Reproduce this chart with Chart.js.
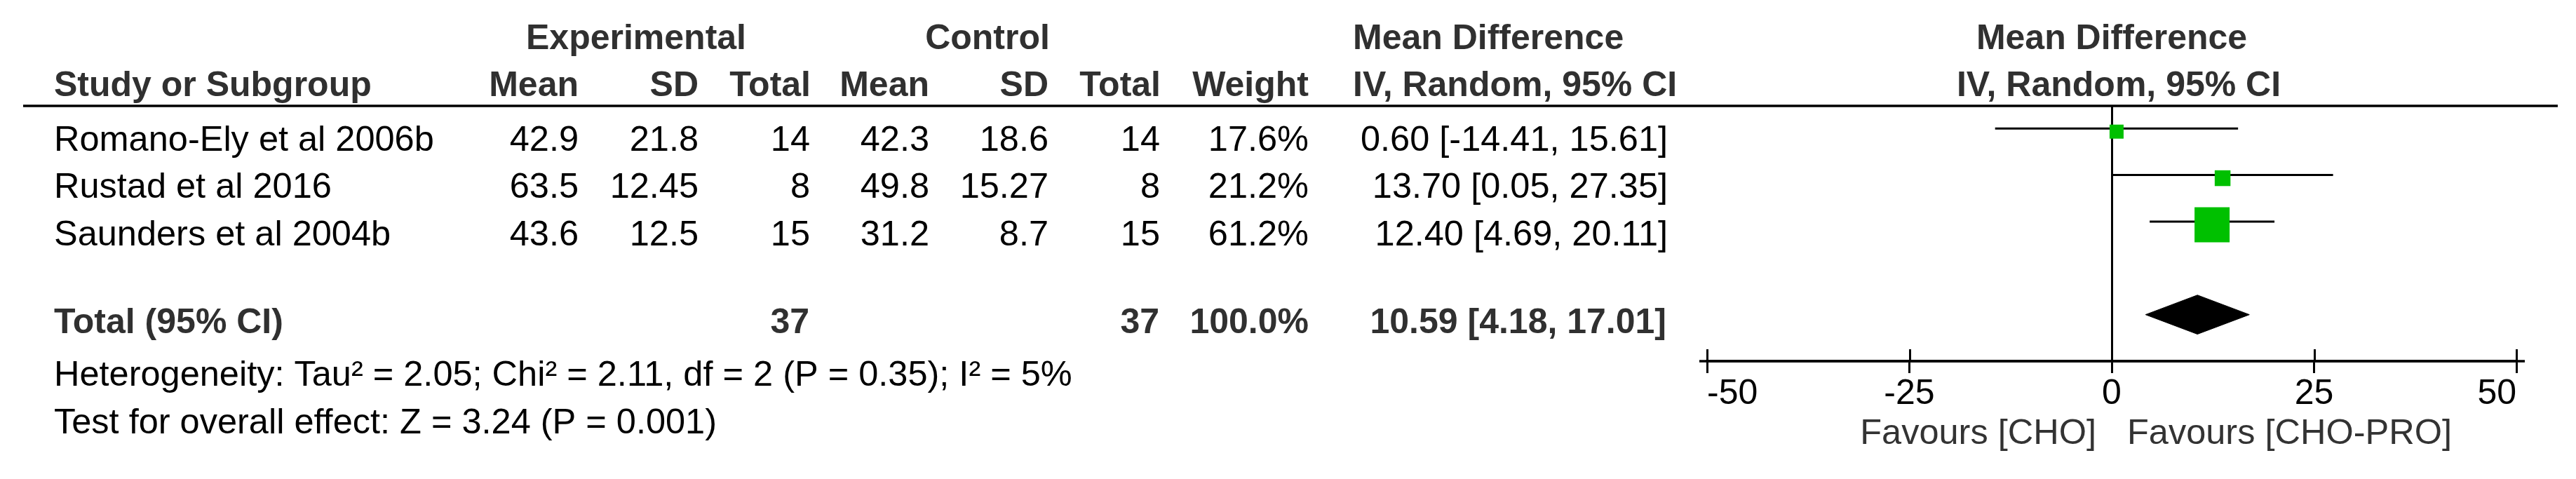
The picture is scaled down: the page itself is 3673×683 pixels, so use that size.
<!DOCTYPE html>
<html>
<head>
<meta charset="utf-8">
<script src="https://cdn.jsdelivr.net/npm/chart.js@4.4.1/dist/chart.umd.min.js"></script>
<style>
  html, body { margin: 0; padding: 0; background: #fff; }
  #wrap { width: 3673px; height: 683px; }
</style>
</head>
<body>
<div id="wrap"><canvas id="forest" width="3673" height="683"></canvas></div>
<script>
// study data
const studies = ['Romano-Ely et al 2006b', 'Rustad et al 2016', 'Saunders et al 2004b'];
const expMean = [42.9, 63.5, 43.6];
const expSD = [21.8, 12.45, 12.5];
const expTotal = [14, 8, 15];
const ctrlMean = [42.3, 49.8, 31.2];
const ctrlSD = [18.6, 15.27, 8.7];
const ctrlTotal = [14, 8, 15];
const weights = [17.6, 21.2, 61.2];
const meanDiff = [0.6, 13.7, 12.4];
const ciLow = [-14.41, 0.05, 4.69];
const ciHigh = [15.61, 27.35, 20.11];

const totalExp = 37;
const totalCtrl = 37;
const totalWeight = 100.0;
const totalMd = 10.59;
const totalLow = 4.18;
const totalHigh = 17.01;

const xTicks = [-50, -25, 0, 25, 50];
const favoursLeft = 'Favours [CHO]';
const favoursRight = 'Favours [CHO-PRO]';
const heterogeneity = 'Heterogeneity: Tau² = 2.05; Chi² = 2.11, df = 2 (P = 0.35); I² = 5%';
const overallTest = 'Test for overall effect: Z = 3.24 (P = 0.001)';

// layout / style constants
const FONT = '"Liberation Sans", Arial, sans-serif';
const TOTAL_ROW = 5;
const BOX_SHIFT = 0.068;   // boxes sit a touch below the CI line
const DIAMOND_H = 0.42;
const GREEN = '#00c000';

const boxSide = (w) => 7.9 + 0.688 * w;

const ciDatasets = studies.map((s, i) => ({
  label: s,
  data: [{ x: ciLow[i], y: i + 1 }, { x: ciHigh[i], y: i + 1 }],
  borderColor: '#000',
  borderWidth: 3,
  pointRadius: 0,
  fill: false,
  tension: 0,
}));

const datasets = [
  {
    label: 'boxes',
    data: meanDiff.map((v, i) => ({ x: v, y: i + 1 + BOX_SHIFT })),
    showLine: false,
    pointStyle: 'rect',
    pointRadius: (c) => boxSide(weights[c.dataIndex]) / Math.SQRT2,
    pointBackgroundColor: GREEN,
    pointBorderWidth: 0,
  },
  ...ciDatasets,
  {
    label: 'diamond top',
    data: [
      { x: totalLow, y: TOTAL_ROW },
      { x: totalMd, y: TOTAL_ROW - DIAMOND_H },
      { x: totalHigh, y: TOTAL_ROW },
    ],
    borderColor: '#000',
    backgroundColor: '#000',
    borderWidth: 1,
    pointRadius: 0,
    tension: 0,
    fill: '+1',
  },
  {
    label: 'diamond bottom',
    data: [
      { x: totalLow, y: TOTAL_ROW },
      { x: totalMd, y: TOTAL_ROW + DIAMOND_H },
      { x: totalHigh, y: TOTAL_ROW },
    ],
    borderColor: '#000',
    borderWidth: 1,
    pointRadius: 0,
    tension: 0,
    fill: false,
  },
];

function put(ctx, s, x, y, align, font, color) {
  ctx.font = font;
  ctx.fillStyle = color;
  ctx.textAlign = align;
  ctx.textBaseline = 'alphabetic';
  ctx.fillText(s, x, y);
}

// table text, header rule and the upper halves of the axis ticks
const tablePlugin = {
  id: 'forestTable',
  afterDraw(chart) {
    const ctx = chart.ctx;
    const xs = chart.scales.x;
    const zero = xs.getPixelForValue(0);
    const bold = `bold 50px ${FONT}`;
    const reg = `50.5px ${FONT}`;
    const hc = '#303030';

    ctx.save();

    // header rule
    ctx.strokeStyle = '#000';
    ctx.lineWidth = 3.5;
    ctx.beginPath();
    ctx.moveTo(33, 151);
    ctx.lineTo(3647, 151);
    ctx.stroke();

    // axis: extend a little past the end ticks, and ticks crossing upward
    const axisY = xs.top;
    ctx.beginPath();
    ctx.moveTo(xs.left - 11, axisY);
    ctx.lineTo(xs.right + 12, axisY);
    ctx.stroke();
    ctx.lineWidth = 3;
    xs.ticks.forEach((t) => {
      const px = Math.round(xs.getPixelForValue(t.value)) + 0.5;
      ctx.beginPath();
      ctx.moveTo(px, axisY - 17);
      ctx.lineTo(px, axisY);
      ctx.stroke();
    });

    // header rows
    put(ctx, 'Experimental', 907, 70, 'center', bold, hc);
    put(ctx, 'Control', 1408, 70, 'center', bold, hc);
    put(ctx, 'Mean Difference', 1929, 70, 'left', bold, hc);
    put(ctx, 'Mean Difference', zero, 70, 'center', bold, hc);

    put(ctx, 'Study or Subgroup', 77, 137, 'left', bold, hc);
    put(ctx, 'Mean', 825, 137, 'right', bold, hc);
    put(ctx, 'SD', 996, 137, 'right', bold, hc);
    put(ctx, 'Total', 1156, 137, 'right', bold, hc);
    put(ctx, 'Mean', 1325, 137, 'right', bold, hc);
    put(ctx, 'SD', 1495, 137, 'right', bold, hc);
    put(ctx, 'Total', 1655, 137, 'right', bold, hc);
    put(ctx, 'Weight', 1866, 137, 'right', bold, hc);
    put(ctx, 'IV, Random, 95% CI', 1929, 137, 'left', bold, hc);
    put(ctx, 'IV, Random, 95% CI', zero + 10, 137, 'center', bold, hc);

    // study rows
    const rowBase = [215, 282, 350];
    studies.forEach((s, i) => {
      const y = rowBase[i];
      put(ctx, s, 77, y, 'left', reg, '#000');
      put(ctx, String(expMean[i]), 825, y, 'right', reg, '#000');
      put(ctx, String(expSD[i]), 996, y, 'right', reg, '#000');
      put(ctx, String(expTotal[i]), 1155, y, 'right', reg, '#000');
      put(ctx, String(ctrlMean[i]), 1325, y, 'right', reg, '#000');
      put(ctx, String(ctrlSD[i]), 1495, y, 'right', reg, '#000');
      put(ctx, String(ctrlTotal[i]), 1654, y, 'right', reg, '#000');
      put(ctx, weights[i].toFixed(1) + '%', 1866, y, 'right', reg, '#000');
      put(ctx, `${meanDiff[i].toFixed(2)} [${ciLow[i].toFixed(2)}, ${ciHigh[i].toFixed(2)}]`, 2378, y, 'right', reg, '#000');
    });

    // total row
    put(ctx, 'Total (95% CI)', 77, 475, 'left', bold, hc);
    put(ctx, String(totalExp), 1154, 475, 'right', bold, hc);
    put(ctx, String(totalCtrl), 1653, 475, 'right', bold, hc);
    put(ctx, totalWeight.toFixed(1) + '%', 1866, 475, 'right', bold, hc);
    put(ctx, `${totalMd.toFixed(2)} [${totalLow.toFixed(2)}, ${totalHigh.toFixed(2)}]`, 2376, 475, 'right', bold, hc);

    put(ctx, heterogeneity, 77, 550, 'left', reg, '#000');
    put(ctx, overallTest, 77, 618, 'left', reg, '#000');

    // favours labels under the axis
    put(ctx, favoursLeft, zero - 22, 633, 'right', reg, '#333');
    put(ctx, favoursRight, zero + 22, 633, 'left', reg, '#333');

    ctx.restore();
  },
};

new Chart(document.getElementById('forest'), {
  type: 'line',
  data: { datasets },
  options: {
    responsive: false,
    animation: false,
    devicePixelRatio: 1,
    layout: { padding: { left: 2434, right: 85, top: 150, bottom: 0 } },
    plugins: {
      legend: { display: false },
      tooltip: { enabled: false },
    },
    scales: {
      x: {
        type: 'linear',
        min: -50,
        max: 50,
        afterBuildTicks: (s) => {
          s.ticks = xTicks.map((v) => ({ value: v }));
        },
        afterFit: (s) => {
          s.height = 168;
        },
        border: { display: true, color: '#000', width: 3.5 },
        grid: {
          color: (c) => (c.tick && c.tick.value === 0 ? '#000' : 'rgba(0,0,0,0)'),
          lineWidth: 3,
          tickColor: '#000',
          tickWidth: 3,
          tickLength: 17,
          drawTicks: true,
        },
        ticks: {
          font: { size: 50, family: FONT },
          color: '#000',
          padding: 0,
          align: 'inner',
          maxRotation: 0,
          autoSkip: false,
        },
      },
      y: {
        type: 'linear',
        min: 0.5,
        max: 6.0,
        reverse: true,
        display: false,
      },
    },
  },
  plugins: [tablePlugin],
});
</script>
</body>
</html>
